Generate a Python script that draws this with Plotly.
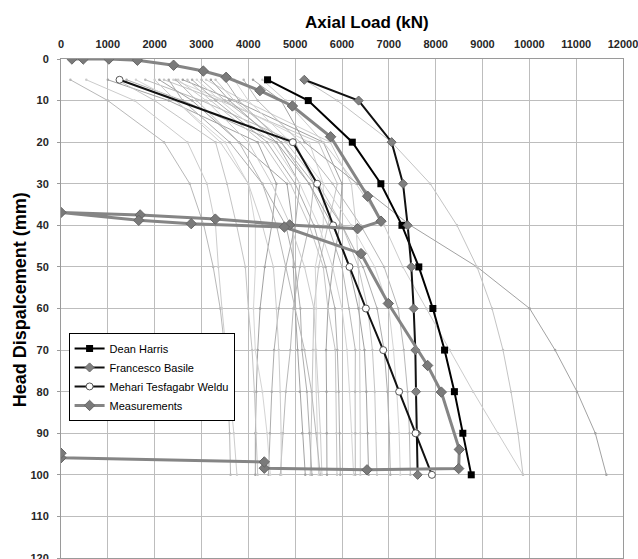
import plotly.graph_objects as go

# ---------------- data ----------------
depth_levels = [5, 10, 20, 30, 40, 50, 60, 70, 80, 90, 100]

harris_load = [4410, 5280, 6220, 6830, 7280, 7640, 7940, 8190, 8400, 8580, 8760]
harris_disp = [5, 10, 20, 30, 40, 50, 60, 70, 80, 90, 100]

basile_load = [5195, 6355, 7060, 7303, 7402, 7480, 7530, 7566, 7580, 7595, 7615]
basile_disp = [5, 10, 20, 30, 40, 50, 60, 70, 80, 90, 100]

weldu_load = [1250, 4950, 5470, 5810, 6160, 6510, 6880, 7220, 7570, 7920]
weldu_disp = [5, 20, 30, 40, 50, 60, 70, 80, 90, 100]

meas_load = [233, 476, 1023, 1631, 2404, 3039, 3526, 4247, 4941, 5757, 6547, 6833,
             6334, 4882, 3295, 1690, 0, 1660, 2780, 4770, 6406, 6989, 7828, 8121,
             8505, 8491, 6534, 4341, 4341, 0, 0]
meas_disp = [0, 0, 0, 0.3, 1.5, 2.9, 4.4, 7.6, 11.3, 18.7, 33, 39,
             40.8, 39.9, 38.5, 37.5, 36.9, 38.8, 39.6, 40.4, 46.8, 58.8, 73.7, 80.1,
             93.9, 98.5, 98.8, 98.4, 96.9, 95.9, 94.8]

# other participants' predictions: load (kN) at depth_levels
other_loads = [
    [200, 1000, 2200, 2750, 3050, 3250, 3400, 3500, 3560, 3600, 3620],
    [540, 1570, 2700, 3117, 3300, 3360, 3437, 3523, 3620, 3690, 3757],
    [1000, 2300, 4200, 4600, 4500, 4350, 4250, 4200, 4170, 4150, 4149],
    [1200, 2000, 3300, 3545, 3750, 3936, 4000, 4080, 4130, 4170, 4200],
    [1400, 2600, 4600, 5100, 5000, 4800, 4650, 4550, 4500, 4460, 4430],
    [1600, 2450, 3500, 4000, 4150, 4150, 4110, 4149, 4300, 4400, 4469],
    [1800, 3000, 5000, 5400, 5300, 5100, 4960, 4896, 4800, 4740, 4683],
    [2000, 2450, 3400, 4000, 4300, 4535, 4600, 4650, 4680, 4700, 4704],
    [2100, 2800, 3800, 4826, 4950, 4960, 5000, 5050, 5100, 5150, 5216],
    [2200, 3400, 5500, 5900, 5700, 5500, 5400, 5380, 5360, 5340, 5322],
    [2300, 2600, 3600, 4300, 4800, 5000, 5110, 5146, 5250, 5300, 5359],
    [2400, 3500, 5300, 5600, 5600, 5430, 5450, 5430, 5450, 5480, 5500],
    [2450, 2900, 3800, 4300, 4600, 4800, 5000, 5200, 5350, 5450, 5537],
    [2500, 3100, 4000, 4500, 4900, 5200, 5400, 5450, 5500, 5540, 5572],
    [2600, 3700, 5600, 6000, 5950, 5800, 5700, 5660, 5670, 5675, 5679],
    [2700, 3200, 4300, 4900, 5300, 5600, 5700, 5857, 5870, 5880, 5893],
    [2800, 3300, 4400, 5000, 5400, 5650, 5850, 5900, 5930, 5950, 5963],
    [2900, 3400, 4500, 5100, 5500, 5800, 6000, 6107, 6160, 6210, 6248],
    [3000, 3500, 4700, 5300, 5700, 6000, 6150, 6285, 6280, 6285, 6284],
    [3100, 3900, 5750, 6200, 6300, 6350, 6370, 6380, 6385, 6390, 6391],
    [3200, 3600, 4600, 5300, 5800, 6150, 6350, 6480, 6520, 6550, 6569],
    [3300, 3700, 4800, 5500, 6000, 6350, 6550, 6650, 6700, 6730, 6747],
    [3500, 3800, 4700, 5400, 6000, 6450, 6750, 6900, 6970, 7010, 7032],
    [3700, 4000, 4900, 5600, 6200, 6700, 7000, 7100, 7170, 7220, 7245],
    [3900, 4200, 5100, 5800, 6400, 6900, 7200, 7320, 7400, 7440, 7459],
    [4300, 4800, 5600, 6300, 6900, 7300, 7800, 8300, 8800, 9330, 9865],
    [4100, 4700, 5200, 6330, 7460, 8883, 10007, 10550, 11018, 11409, 11645],
    [5195, 5900, 7060, 7885, 8455, 8883, 9204, 9438, 9609, 9758, 9865],
]

x_ticks = list(range(0, 12001, 1000))
y_ticks = list(range(0, 121, 10))

# ---------------- styles ----------------
grey_shades = ['#b8b8b8', '#cccccc', '#a2a2a2', '#c4c4c4', '#adadad', '#d4d4d4']
FONT = 'Liberation Sans, Arial, sans-serif'

fig = go.Figure()

for i, loads in enumerate(other_loads):
    c = grey_shades[i % len(grey_shades)]
    fig.add_trace(go.Scatter(
        x=loads, y=depth_levels, mode='lines+markers',
        line=dict(color=c, width=1),
        marker=dict(color=c, size=2.5),
        showlegend=False, hoverinfo='skip'))

fig.add_trace(go.Scatter(
    x=harris_load, y=harris_disp, name='Dean Harris', mode='lines+markers',
    line=dict(color='#000000', width=2),
    marker=dict(symbol='square', size=7, color='#000000')))

fig.add_trace(go.Scatter(
    x=basile_load, y=basile_disp, name='Francesco Basile', mode='lines+markers',
    line=dict(color='#111111', width=2),
    marker=dict(symbol='diamond', size=7, color='#808080',
                line=dict(color='#6a6a6a', width=1))))

fig.add_trace(go.Scatter(
    x=weldu_load, y=weldu_disp, name='Mehari Tesfagabr Weldu', mode='lines+markers',
    line=dict(color='#111111', width=2),
    marker=dict(symbol='circle', size=7, color='#ffffff',
                line=dict(color='#555555', width=1))))

fig.add_trace(go.Scatter(
    x=meas_load, y=meas_disp, name='Measurements', mode='lines+markers',
    line=dict(color='#858585', width=3),
    marker=dict(symbol='diamond', size=8, color='#7a7a7a',
                line=dict(color='#666666', width=1))))

fig.update_layout(
    width=638, height=559,
    margin=dict(l=60.7, r=15.3, t=59, b=0.8, pad=0, autoexpand=False),
    plot_bgcolor='#ffffff', paper_bgcolor='#ffffff',
    font=dict(family=FONT, color='#000000'),
    showlegend=True,
    legend=dict(x=0.0135, y=0.451, xanchor='left', yanchor='top',
                bgcolor='#ffffff', bordercolor='#000000', borderwidth=1,
                font=dict(family=FONT, size=11, color='#000000'),
                itemwidth=30, tracegroupgap=0),
    xaxis=dict(side='top', range=[0, 12000], tickvals=x_ticks,
               ticktext=[str(v) for v in x_ticks], automargin=False,
               ticklabeloverflow='allow',
               showgrid=True, gridcolor='#bdbdbd', gridwidth=1,
               showline=True, linecolor='#9a9a9a', linewidth=1, mirror=True,
               ticks='', ticklabelstandoff=6, zeroline=False,
               tickfont=dict(family=FONT, size=11, weight='bold', color='#262626')),
    yaxis=dict(range=[120, 0], tickvals=y_ticks,
               ticktext=[str(v) for v in y_ticks], automargin=False,
               ticklabeloverflow='allow',
               showgrid=True, gridcolor='#bdbdbd', gridwidth=1,
               showline=True, linecolor='#9a9a9a', linewidth=1, mirror=True,
               ticks='outside', ticklen=3, tickcolor='#9a9a9a',
               ticklabelstandoff=6, zeroline=False,
               tickfont=dict(family=FONT, size=11, weight='bold', color='#262626')),
    annotations=[
        dict(text='Axial Load (kN)', xref='paper', yref='paper',
             x=0.545, y=1.074, xanchor='center', yanchor='middle', showarrow=False,
             font=dict(family=FONT, size=17, weight='bold', color='#000000')),
        dict(text='Head Dispalcement (mm)', xref='paper', yref='paper',
             x=-0.0724, y=0.517, xanchor='center', yanchor='middle', showarrow=False,
             textangle=-90,
             font=dict(family=FONT, size=18, weight='bold', color='#000000')),
    ],
)

# remove the browser's default 8px body margin so the figure sits at the page origin
fig.write_html('out.html',
               config={'displayModeBar': False},
               post_script="document.body.style.margin='0';document.body.style.overflow='hidden';")
